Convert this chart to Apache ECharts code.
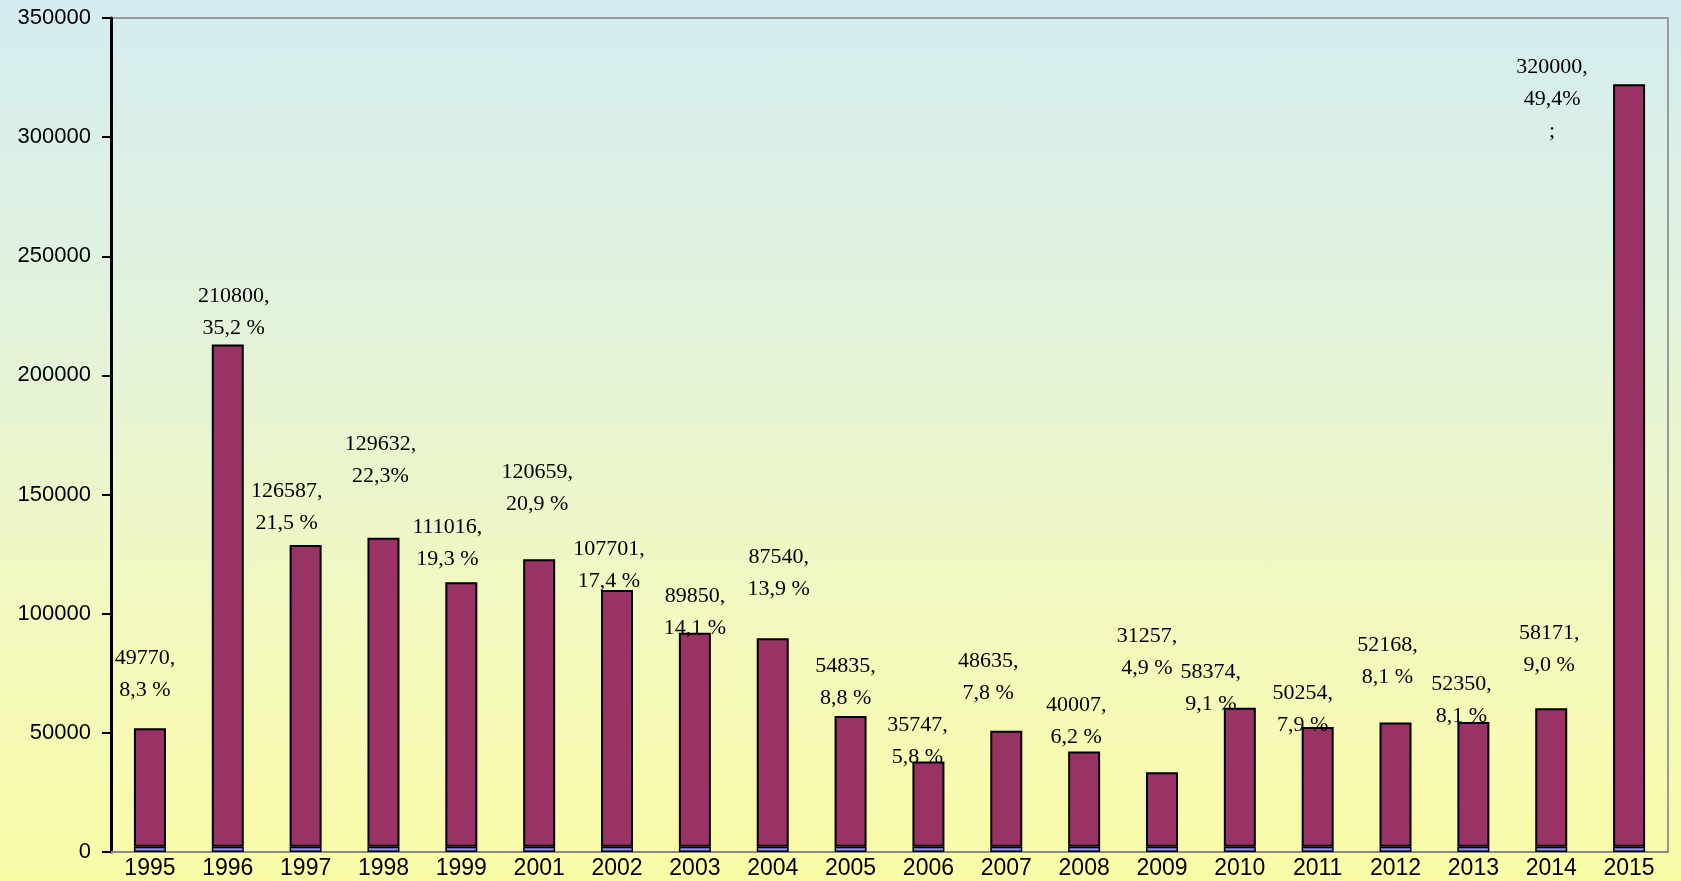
<!DOCTYPE html>
<html>
<head>
<meta charset="utf-8">
<script src="https://cdn.jsdelivr.net/npm/echarts@6/dist/echarts.min.js"></script>
<style>
  html, body { margin: 0; padding: 0; }
  body {
    width: 1681px; height: 881px;
    background: linear-gradient(to bottom, #d4ecf1 0%, #e2f3dc 35%, #f3f8bf 70%, #f9fba6 100%);
  }
  #chart { width: 1681px; height: 881px; }
</style>
</head>
<body>
<div id="chart"></div>
<script>
// data
const years = ['1995', '1996', '1997', '1998', '1999', '2001', '2002', '2003', '2004', '2005',
  '2006', '2007', '2008', '2009', '2010', '2011', '2012', '2013', '2014', '2015'];
const values = [49770, 210800, 126587, 129632, 111016, 120659, 107701, 89850, 87540, 54835,
  35747, 48635, 40007, 31257, 58374, 50254, 52168, 52350, 58171, 320000];
const percents = ['8,3 %', '35,2 %', '21,5 %', '22,3%', '19,3 %', '20,9 %', '17,4 %', '14,1 %', '13,9 %', '8,8 %',
  '5,8 %', '7,8 %', '6,2 %', '4,9 %', '9,1 %', '7,9 %', '8,1 %', '8,1 %', '9,0 %', '49,4%'];
const baseValues = [2200, 2200, 2200, 2200, 2200, 2200, 2200, 2200, 2200, 2200,
  2200, 2200, 2200, 2200, 2200, 2200, 2200, 2200, 2200, 2200];
const yTicks = [0, 50000, 100000, 150000, 200000, 250000, 300000, 350000];

// label placement (labels were hand-placed in the original)
const labelOffsets = [[-5, -17], [6, 5], [-19, -1], [-3, -41], [-14, -2], [-2, -34], [-8, 12], [0, 17], [6, -28], [-5, 3],
  [-11, 17], [-18, -17], [-8, 7], [-15, -83], [-29, 18], [-15, 19], [-8, -24], [-12, 15], [-2, -22], [-77, 68]];

const chart = echarts.init(document.getElementById('chart'));

const option = {
  backgroundColor: 'transparent',
  animation: false,
  grid: {
    left: 111, top: 18, right: 13, bottom: 29,
    show: true, borderColor: '#9a9a9a', borderWidth: 2
  },
  xAxis: {
    type: 'category',
    data: years,
    axisLine: { show: true, lineStyle: { color: '#8a8a8a', width: 2 } },
    axisTick: { show: false },
    axisLabel: {
      color: '#000', fontFamily: 'Liberation Sans', fontSize: 23, margin: 5, interval: 0
    }
  },
  yAxis: {
    type: 'value',
    min: yTicks[0],
    max: yTicks[yTicks.length - 1],
    interval: yTicks[1] - yTicks[0],
    splitLine: { show: false },
    axisLine: { show: true, lineStyle: { color: '#000', width: 3 } },
    axisTick: { show: true, length: 9, lineStyle: { color: '#000', width: 2 } },
    axisLabel: {
      color: '#000', fontFamily: 'Liberation Sans', fontSize: 22, margin: 20,
      formatter: function (v) { return String(v); }
    }
  },
  series: [
    {
      type: 'bar',
      stack: 'total',
      barWidth: 32,
      data: baseValues,
      itemStyle: { color: '#8c8cf5', borderColor: '#000', borderWidth: 1.5 },
      silent: true
    },
    {
      type: 'bar',
      stack: 'total',
      barWidth: 32,
      data: values.map((v, i) => ({
        value: v,
        label: { offset: labelOffsets[i] }
      })),
      itemStyle: { color: '#993366', borderColor: '#000', borderWidth: 2 },
      label: {
        show: true,
        position: 'top',
        distance: 5,
        color: '#000',
        fontFamily: 'Liberation Serif',
        fontSize: 22,
        lineHeight: 32,
        align: 'center',
        formatter: function (p) {
          let s = values[p.dataIndex] + ',\n' + percents[p.dataIndex];
          if (p.dataIndex === values.length - 1) s += '\n;';
          return s;
        }
      }
    }
  ]
};

chart.setOption(option);
</script>
</body>
</html>
